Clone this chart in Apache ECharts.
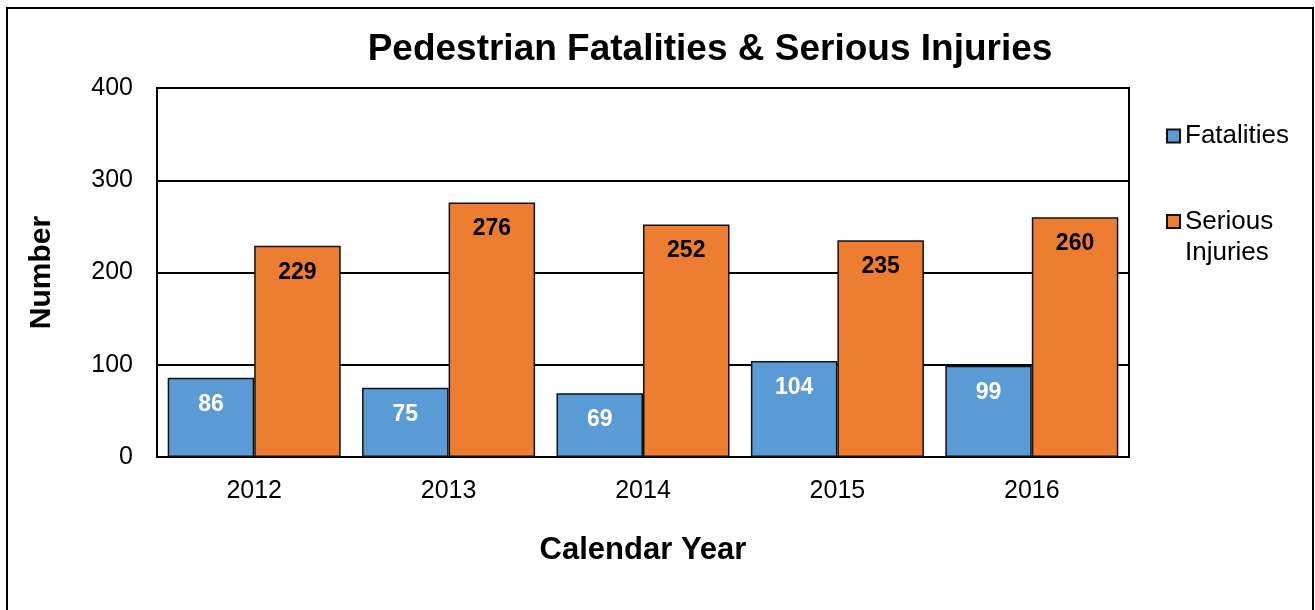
<!DOCTYPE html>
<html>
<head>
<meta charset="utf-8">
<script src="https://cdn.jsdelivr.net/npm/echarts@6/dist/echarts.min.js"></script>
<style>
  html, body { margin: 0; padding: 0; background: #fff; }
  #chart { width: 1315px; height: 610px; }
</style>
</head>
<body>
<div id="chart"></div>
<script>
var years = ['2012', '2013', '2014', '2015', '2016'];
var fatalities = [86, 75, 69, 104, 99];
var injuries = [229, 276, 252, 235, 260];
var yTicks = [0, 100, 200, 300, 400];

var font = '"Liberation Sans", Arial, sans-serif';
var chart = echarts.init(document.getElementById('chart'));

// legend squares: same box height for both, the square of the 2-line item sits at its first line
var iconMid = 'path://M0,0 M0,15.5 L13,15.5 L13,28.5 L0,28.5 Z M0,44';
var iconTop = 'path://M0,0 L13,0 L13,13 L0,13 Z M0,44';

var option = {
    backgroundColor: '#fff',
    animation: false,
    textStyle: { fontFamily: font },
    graphic: [{
        type: 'rect',
        shape: { x: 7, y: 8, width: 1306, height: 620 },
        style: { fill: 'none', stroke: '#000', lineWidth: 2 }
    }],
    title: {
        text: 'Pedestrian Fatalities & Serious Injuries',
        left: 705, top: 26, textAlign: 'center',
        textStyle: { fontFamily: font, fontSize: 37, fontWeight: 'bold', color: '#000' }
    },
    legend: {
        orient: 'vertical',
        left: 1161, top: 108,
        itemWidth: 13, itemHeight: 44, itemGap: 47,
        data: [
            { name: 'Fatalities', icon: iconMid },
            { name: 'Serious\nInjuries', icon: iconTop }
        ],
        textStyle: { fontFamily: font, fontSize: 26, color: '#000', lineHeight: 31 }
    },
    grid: {
        left: 157, right: 186, top: 88, bottom: 153,
        show: true, borderColor: '#000', borderWidth: 2
    },
    xAxis: {
        type: 'category',
        data: years,
        name: 'Calendar Year',
        nameLocation: 'middle', nameGap: 78,
        nameTextStyle: { fontFamily: font, fontSize: 31, fontWeight: 'bold', color: '#000' },
        axisLine: { lineStyle: { color: '#000', width: 2 } },
        axisTick: { show: false },
        axisLabel: { fontFamily: font, fontSize: 25, color: '#000', margin: 22 }
    },
    yAxis: {
        type: 'value',
        min: yTicks[0], max: yTicks[yTicks.length - 1], interval: 100,
        name: 'Number',
        nameLocation: 'middle', nameGap: 100, nameRotate: 90,
        nameTextStyle: { fontFamily: font, fontSize: 30, fontWeight: 'bold', color: '#000' },
        axisLine: { show: true, lineStyle: { color: '#000', width: 2 } },
        axisTick: { show: false },
        splitLine: { lineStyle: { color: '#000', width: 2 } },
        axisLabel: { fontFamily: font, fontSize: 25, color: '#000', margin: 24 }
    },
    series: [
        {
            name: 'Fatalities',
            type: 'bar',
            data: fatalities,
            barGap: '0%',
            barCategoryGap: '11%',
            itemStyle: { color: '#5B9BD5', borderColor: '#111', borderWidth: 1.5 },
            label: {
                show: true, position: 'insideTop', distance: 15,
                fontFamily: font, fontSize: 23, fontWeight: 'bold', color: '#fff'
            }
        },
        {
            name: 'Serious\nInjuries',
            type: 'bar',
            data: injuries,
            barGap: '0%',
            barCategoryGap: '11%',
            itemStyle: { color: '#ED7D31', borderColor: '#111', borderWidth: 1.5 },
            label: {
                show: true, position: 'insideTop', distance: 15,
                fontFamily: font, fontSize: 23, fontWeight: 'bold', color: '#000'
            }
        }
    ]
};
chart.setOption(option);
</script>
</body>
</html>
